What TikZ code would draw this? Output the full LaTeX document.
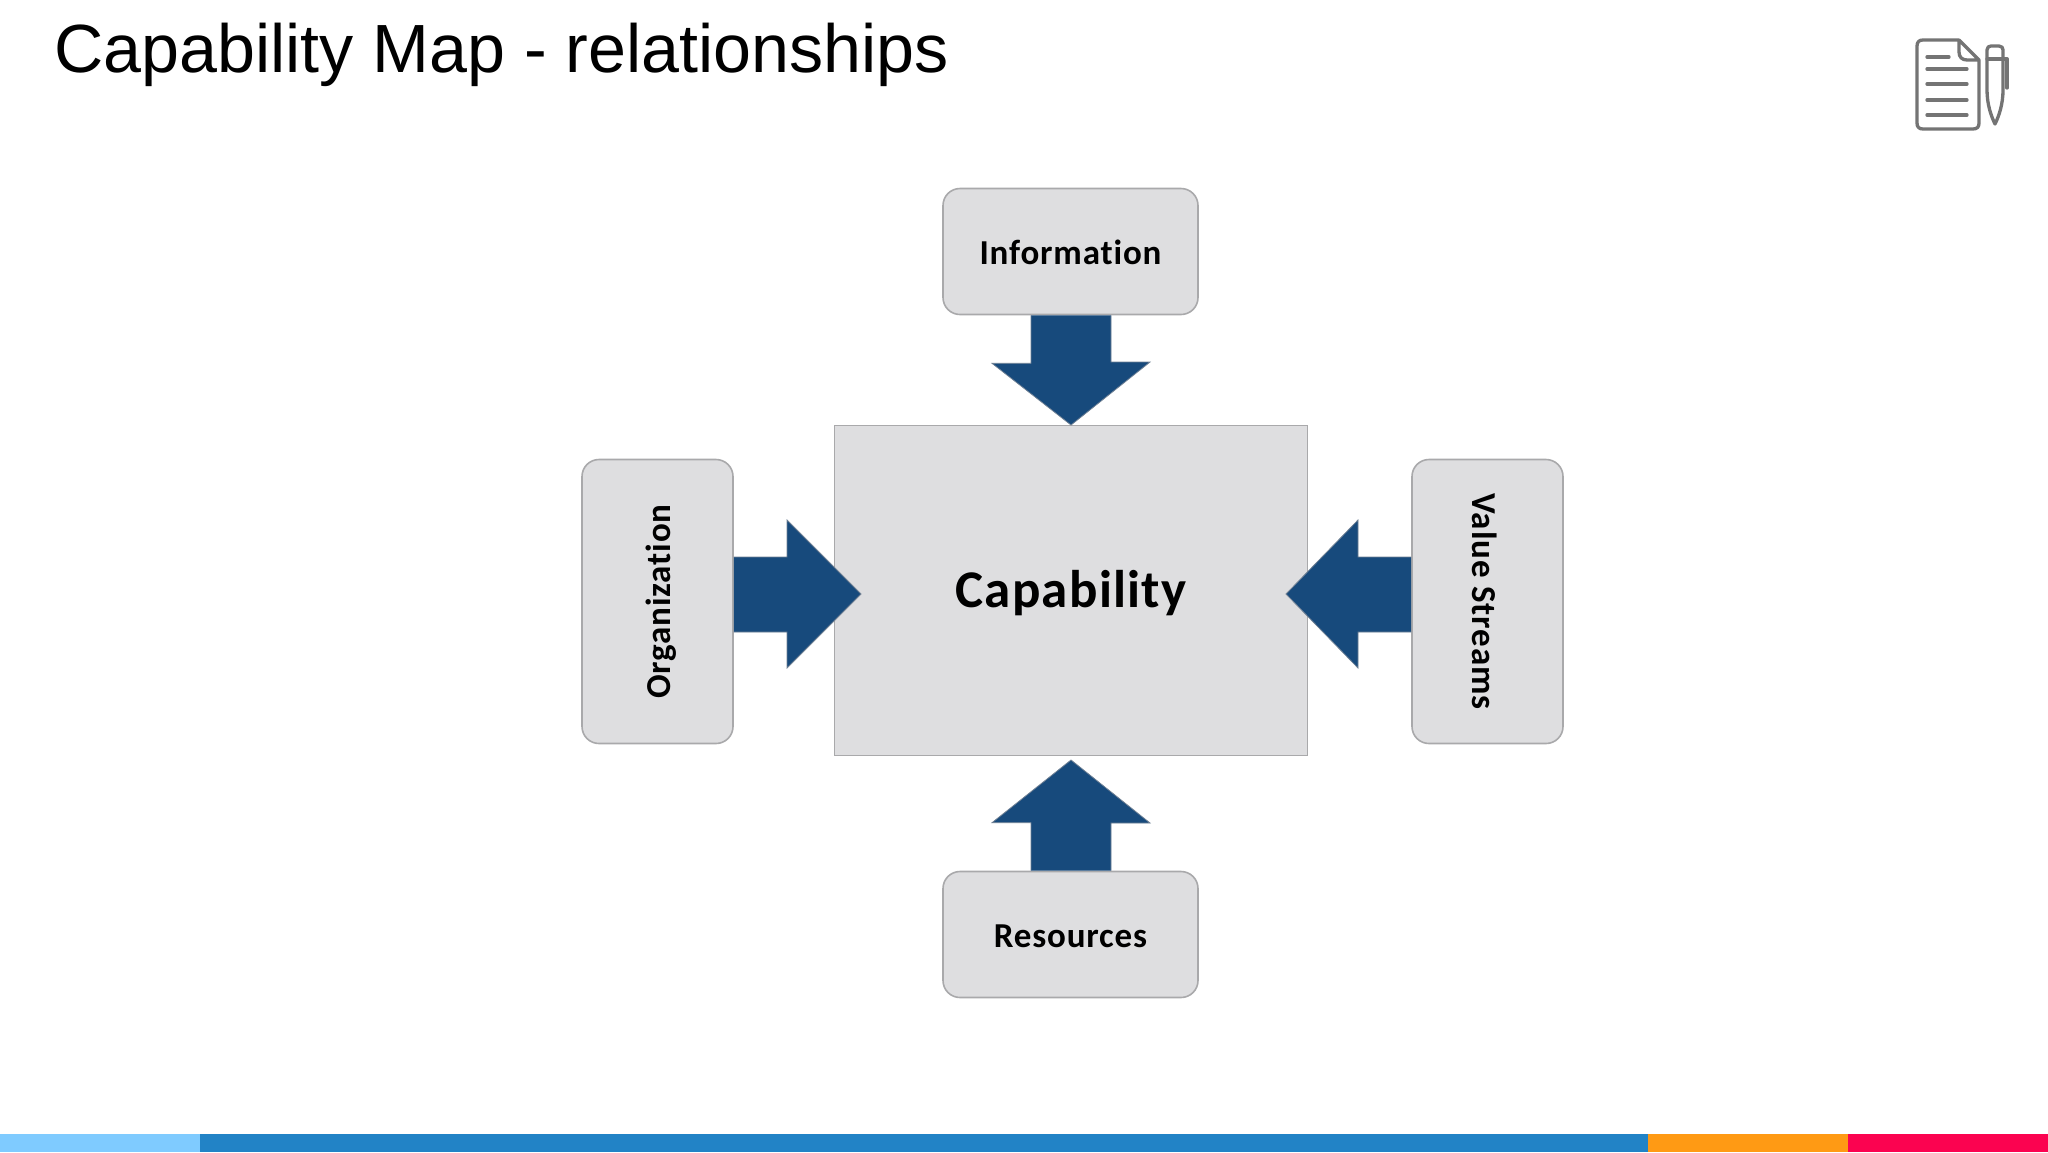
\documentclass[tikz,border=0pt]{standalone}
\usepackage{fontspec}
\usepackage{graphicx}
\setmainfont{Liberation Sans}
\newfontfamily\labelfont{Carlito}[BoldFont={Carlito Bold},LetterSpace=2.4,Ligatures=NoCommon]
\definecolor{boxfill}{HTML}{DEDEE0}
\definecolor{boxedge}{HTML}{A9A9AB}
\definecolor{arrowblue}{HTML}{174A7C}
\definecolor{arrowedge}{HTML}{6F8094}
\definecolor{icongrey}{HTML}{747474}
\definecolor{barlight}{HTML}{7FCBFF}
\definecolor{barblue}{HTML}{2283C6}
\definecolor{barorange}{HTML}{FF9A14}
\definecolor{barred}{HTML}{FB0350}
\newcommand{\shifttext}[2]{\raisebox{#1}[\height][\depth]{#2}}
\tikzset{
  x=1pt,y=-1pt,
  titletext/.style={anchor=base west,inner sep=0pt,font=\fontsize{68.2}{72}\selectfont},
  boxbase/.style={draw=boxedge,fill=boxfill,line width=1.6pt,inner sep=0pt,font=\labelfont\bfseries\fontsize{35}{40}\selectfont,text=black},
  hbox/.style={boxbase,rounded corners=17pt,minimum width=255pt,minimum height=126pt},
  vbox/.style={boxbase,rounded corners=17pt,minimum width=151pt,minimum height=284pt},
  capbox/.style={boxbase,minimum width=473pt,minimum height=330pt,font=\labelfont\bfseries\fontsize{53}{60}\selectfont},
  blockarrow/.style={fill=arrowblue,draw=arrowedge,line width=0.8pt,line join=miter},
  iconline/.style={draw=icongrey,line width=3.3pt,line cap=round,line join=round}
}
\begin{document}
\begin{tikzpicture}
\useasboundingbox (0,0) rectangle (2048,1152);
\fill[white] (0,0) rectangle (2048,1152);
\node[titletext] (title) at (54,72) {Capability Map - relationships};
% bottom bar
\fill[barlight] (0,1134) rectangle (200,1152);
\fill[barblue] (200,1134) rectangle (1648,1152);
\fill[barorange] (1648,1134) rectangle (1848,1152);
\fill[barred] (1848,1134) rectangle (2048,1152);
% boxes
\node[capbox] (cap) at (1071,590.5) {\shifttext{-3pt}{Capability}};
\node[hbox] (info) at (1070.5,251.5) {\shifttext{-1pt}{Information}};
\node[hbox] (res) at (1070.5,934.5) {\shifttext{-1.5pt}{Resources}};
\node[vbox] (org) at (657.5,601.5) {\rotatebox{90}{\shifttext{-3.5pt}{Organization}}};
\node[vbox] (vs) at (1487.5,601.5) {\rotatebox{-90}{\shifttext{-3pt}{Value Streams}}};
% arrow tips
\coordinate (tipT) at (1071,425);
\coordinate (tipB) at (1071,760);
\coordinate (tipL) at (861,594);
\coordinate (tipR) at (1286,594);
% block arrows
\draw[blockarrow] ([xshift=-39.5pt]info.south) -- ++(0,48) -- ++(-39,0) -- (tipT) -- ++(79,-63) -- ++(-39,0) -- ([xshift=40.5pt]info.south);
\draw[blockarrow] ([xshift=-39.5pt]res.north) -- ++(0,-48) -- ++(-39,0) -- (tipB) -- ++(79,63) -- ++(-39,0) -- ([xshift=40.5pt]res.north);
\draw[blockarrow] (org.east |- 0,557) -- (787,557) -- (787,520) -- (tipL) -- (787,668) -- (787,632) -- (org.east |- 0,632);
\draw[blockarrow] (vs.west |- 0,557) -- (1358,557) -- (1358,520) -- (tipR) -- (1358,668) -- (1358,632) -- (vs.west |- 0,632);
% document icon
\draw[iconline] (1959,40) -- (1923,40) .. controls (1919,40) and (1917,42) .. (1917,46) -- (1917,123) .. controls (1917,127) and (1919,129) .. (1923,129) -- (1973,129) .. controls (1977,129) and (1979,127) .. (1979,123) -- (1979,60) -- (1959,40) -- (1959,52) .. controls (1959,57) and (1962,60) .. (1967,60) -- (1979,60);
\draw[iconline] (1927,57) -- (1949,57);
\draw[iconline] (1927,69) -- (1967,69);
\draw[iconline] (1927,84) -- (1967,84);
\draw[iconline] (1927,100) -- (1967,100);
\draw[iconline] (1927,115) -- (1967,115);
% pen icon
\draw[iconline] (1987,59) -- (1987,50) .. controls (1987,47) and (1989,46) .. (1991,46) -- (1999,46) .. controls (2002,46) and (2003,48) .. (2003,50) -- (2003,59) -- (2003,90) .. controls (2003,104) and (1999,116) .. (1995,124) .. controls (1991,116) and (1987,104) .. (1987,90) -- cycle;
\draw[iconline] (1987,59) -- (2007,59) -- (2007,88);
\end{tikzpicture}
\end{document}
